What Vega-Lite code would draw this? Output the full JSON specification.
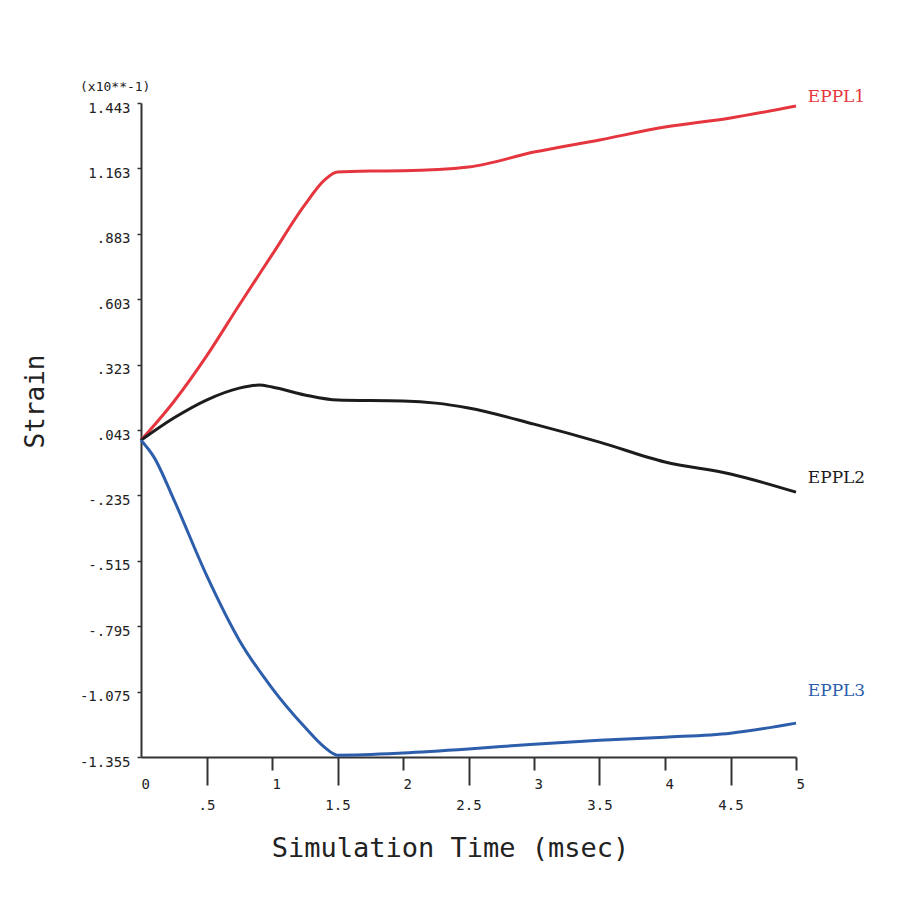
{
  "$schema": "https://vega.github.io/schema/vega-lite/v6.json",
  "width": 655,
  "height": 654,
  "autosize": "none",
  "padding": {"left": 141, "top": 103, "right": 102, "bottom": 145},
  "background": "white",
  "config": {
    "view": {"stroke": null},
    "font": "DejaVu Sans Mono"
  },
  "title": {
    "text": "(x10**-1)",
    "anchor": "start",
    "frame": "group",
    "orient": "top",
    "dx": -61,
    "dy": 31,
    "offset": 12,
    "baseline": "bottom",
    "font": "DejaVu Sans Mono",
    "fontSize": 13,
    "fontWeight": "normal",
    "color": "#222222"
  },
  "datasets": {
    "strain": [
      {"series": "EPPL1", "t": 0, "v": 0},
      {"series": "EPPL1", "t": 0.25, "v": 0.165},
      {"series": "EPPL1", "t": 0.5, "v": 0.36},
      {"series": "EPPL1", "t": 0.75, "v": 0.579},
      {"series": "EPPL1", "t": 1, "v": 0.793},
      {"series": "EPPL1", "t": 1.25, "v": 1.007},
      {"series": "EPPL1", "t": 1.4, "v": 1.113},
      {"series": "EPPL1", "t": 1.5, "v": 1.148},
      {"series": "EPPL1", "t": 1.75, "v": 1.152},
      {"series": "EPPL1", "t": 2, "v": 1.153},
      {"series": "EPPL1", "t": 2.5, "v": 1.169},
      {"series": "EPPL1", "t": 3, "v": 1.233},
      {"series": "EPPL1", "t": 3.5, "v": 1.285},
      {"series": "EPPL1", "t": 4, "v": 1.34},
      {"series": "EPPL1", "t": 4.5, "v": 1.379},
      {"series": "EPPL1", "t": 5, "v": 1.43},
      {"series": "EPPL2", "t": 0, "v": 0},
      {"series": "EPPL2", "t": 0.25, "v": 0.095},
      {"series": "EPPL2", "t": 0.5, "v": 0.172},
      {"series": "EPPL2", "t": 0.75, "v": 0.223},
      {"series": "EPPL2", "t": 0.9, "v": 0.236},
      {"series": "EPPL2", "t": 1, "v": 0.228},
      {"series": "EPPL2", "t": 1.25, "v": 0.194},
      {"series": "EPPL2", "t": 1.5, "v": 0.172},
      {"series": "EPPL2", "t": 2, "v": 0.168},
      {"series": "EPPL2", "t": 2.25, "v": 0.159},
      {"series": "EPPL2", "t": 2.5, "v": 0.138},
      {"series": "EPPL2", "t": 3, "v": 0.069},
      {"series": "EPPL2", "t": 3.5, "v": -0.008},
      {"series": "EPPL2", "t": 4, "v": -0.093},
      {"series": "EPPL2", "t": 4.5, "v": -0.144},
      {"series": "EPPL2", "t": 5, "v": -0.222},
      {"series": "EPPL3", "t": 0, "v": 0},
      {"series": "EPPL3", "t": 0.1, "v": -0.073},
      {"series": "EPPL3", "t": 0.25, "v": -0.253},
      {"series": "EPPL3", "t": 0.5, "v": -0.577},
      {"series": "EPPL3", "t": 0.75, "v": -0.855},
      {"series": "EPPL3", "t": 1, "v": -1.06},
      {"series": "EPPL3", "t": 1.25, "v": -1.227},
      {"series": "EPPL3", "t": 1.4, "v": -1.313},
      {"series": "EPPL3", "t": 1.5, "v": -1.347},
      {"series": "EPPL3", "t": 2, "v": -1.338},
      {"series": "EPPL3", "t": 2.5, "v": -1.321},
      {"series": "EPPL3", "t": 3, "v": -1.3},
      {"series": "EPPL3", "t": 3.5, "v": -1.283},
      {"series": "EPPL3", "t": 4, "v": -1.27},
      {"series": "EPPL3", "t": 4.5, "v": -1.253},
      {"series": "EPPL3", "t": 5, "v": -1.21}
    ],
    "tags": [
      {"series": "EPPL1", "t": 5.09, "v": 1.469},
      {"series": "EPPL2", "t": 5.09, "v": -0.162},
      {"series": "EPPL3", "t": 5.09, "v": -1.073}
    ]
  },
  "encoding": {
    "x": {
      "field": "t",
      "type": "quantitative",
      "scale": {"domain": [0, 5], "nice": false, "zero": false},
      "axis": {
        "values": [0, 0.5, 1, 1.5, 2, 2.5, 3, 3.5, 4, 4.5, 5],
        "format": "~g",
        "labelExpr": "datum.value == 0.5 ? '.5' : format(datum.value, '~g')",
        "grid": false,
        "domainColor": "#333333",
        "domainWidth": 2,
        "tickColor": "#333333",
        "tickWidth": 2,
        "tickSize": 28,
        "tickDash": {
          "condition": {"test": "datum.value % 1 == 0", "value": [13, 40]},
          "value": [40, 1]
        },
        "tickOpacity": {
          "condition": {"test": "datum.value == 0", "value": 0},
          "value": 1
        },
        "labelPadding": {
          "condition": {"test": "datum.value % 1 == 0", "value": -8},
          "value": 13
        },
        "labelAlign": {
          "condition": {"test": "datum.value % 1 == 0", "value": "left"},
          "value": "center"
        },
        "labelFont": "DejaVu Sans Mono",
        "labelFontSize": 14,
        "labelColor": "#222222",
        "labelFlush": false,
        "labelOverlap": false,
        "title": "Simulation Time (msec)",
        "titleFont": "DejaVu Sans Mono",
        "titleFontSize": 27,
        "titleFontWeight": "normal",
        "titleColor": "#222222",
        "titleX": 309,
        "titleY": 91,
        "titleAlign": "center",
        "titleBaseline": "middle"
      }
    },
    "y": {
      "field": "v",
      "type": "quantitative",
      "scale": {"domain": [-1.355, 1.443], "nice": false, "zero": false},
      "axis": {
        "values": [1.443, 1.163, 0.883, 0.603, 0.323, 0.043, -0.235, -0.515, -0.795, -1.075, -1.355],
        "labelExpr": "(datum.value < 0 ? '-' : '') + (abs(datum.value) >= 1 ? format(abs(datum.value), '.3f') : substring(format(abs(datum.value), '.3f'), 1))",
        "grid": false,
        "domainColor": "#333333",
        "domainWidth": 2,
        "tickColor": "#333333",
        "tickWidth": 1.5,
        "tickSize": 4,
        "labelPadding": 7,
        "labelOffset": 5,
        "labelFont": "DejaVu Sans Mono",
        "labelFontSize": 14,
        "labelColor": "#222222",
        "labelFlush": false,
        "labelOverlap": false,
        "title": "Strain",
        "titleFont": "DejaVu Sans Mono",
        "titleFontSize": 26,
        "titleFontWeight": "normal",
        "titleColor": "#222222",
        "titleAngle": -90,
        "titleX": -106,
        "titleY": 298,
        "titleAlign": "center",
        "titleBaseline": "middle"
      }
    },
    "color": {
      "field": "series",
      "type": "nominal",
      "scale": {"domain": ["EPPL1", "EPPL2", "EPPL3"], "range": ["#e5363f", "#1c1c1c", "#2c5eab"]},
      "legend": null
    }
  },
  "layer": [
    {
      "data": {"name": "strain"},
      "mark": {"type": "line", "strokeWidth": 3, "interpolate": "monotone", "clip": false}
    },
    {
      "data": {"name": "tags"},
      "mark": {"type": "text", "align": "left", "baseline": "middle", "font": "DejaVu Serif", "fontSize": 17},
      "encoding": {"text": {"field": "series"}}
    }
  ]
}
